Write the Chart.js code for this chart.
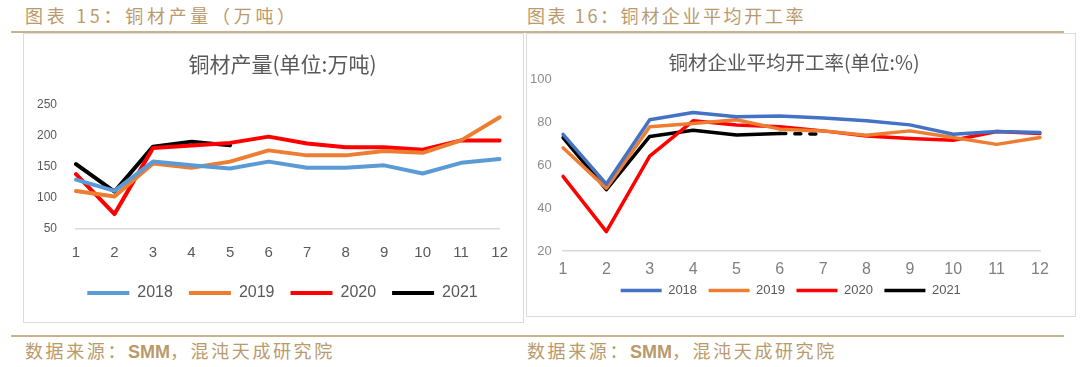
<!DOCTYPE html>
<html lang="zh">
<head>
    <meta charset="UTF-8">
    <title>铜材产量与开工率</title>
    <script src="https://cdn.jsdelivr.net/npm/chart.js@4.4.1/dist/chart.umd.min.js"></script>
    <style>
        body {
            margin: 0;
            width: 1080px;
            height: 367px;
            background: #fff;
            position: relative;
            overflow: hidden;
            font-family: "Noto Sans CJK SC", sans-serif;
        }
        .hdr, .src {
            position: absolute;
            color: #b99a6c;
            font-size: 18px;
            letter-spacing: 2.6px;
            line-height: 20px;
            white-space: nowrap;
        }
        .hdr { top: 5px; }
        .src { top: 340px; }
        .src b { font-family: "Liberation Sans Narrow", "Liberation Sans", sans-serif; letter-spacing: 0; }
        .rule {
            position: absolute;
            left: 11px;
            width: 1053px;
            height: 2px;
            background: #c9b38a;
        }
        .box {
            position: absolute;
            border: 1px solid #dcdcdc;
            box-sizing: border-box;
        }
        canvas { position: absolute; }
    </style>
</head>
<body>
    <div class="hdr" style="left:25px;letter-spacing:3.7px">图表 15：铜材产量（万吨）</div>
    <div class="hdr" style="left:527px">图表 16：铜材企业平均开工率</div>
    <div class="rule" style="top:31px"></div>

    <div class="box" style="left:23px;top:33px;width:501px;height:290px"></div>
    <div class="box" style="left:526px;top:33px;width:550px;height:284px"></div>

    <canvas id="chanliang" style="left:23px;top:33px" width="500" height="289"></canvas>
    <canvas id="kaigong" style="left:526px;top:33px" width="549" height="283"></canvas>

    <div class="rule" style="top:335px"></div>
    <div class="src" style="left:25px">数据来源：<b>SMM</b>，混沌天成研究院</div>
    <div class="src" style="left:527px">数据来源：<b>SMM</b>，混沌天成研究院</div>

    <script>
        // måneder
        const maaneder = ['1', '2', '3', '4', '5', '6', '7', '8', '9', '10', '11', '12'];

        // 铜材产量 (万吨)
        const prod2018 = [129, 111, 158, 152, 147, 158, 148, 148, 152, 139, 156, 162];
        const prod2019 = [111, 102, 155, 148, 158, 176, 168, 168, 175, 172, 192, 229];
        const prod2020 = [138, 74, 180, 184, 188, 198, 187, 181, 181, 177, 192, 192];
        const prod2021 = [154, 110, 182, 190, 184];

        // 开工率 (%)
        const rate2018 = [74.4, 51.2, 81.2, 84.6, 82.6, 82.9, 82.0, 80.7, 78.8, 74.4, 75.7, 75.2];
        const rate2019 = [68.1, 49.3, 77.9, 79.4, 81.2, 76.8, 76.0, 74.0, 76.0, 72.9, 69.7, 72.9];
        const rate2020 = [54.8, 29.0, 64.2, 80.7, 78.7, 77.9, 76.0, 73.6, 72.4, 71.6, 75.7, 74.8];
        const rate2021 = [72.9, 48.6, 73.4, 76.3, 74.1, 74.8, 74.5];

        const aarstall = ['2018', '2019', '2020', '2021'];

        function linje(label, data, farge, bredde) {
            return {
                label: label,
                data: data,
                borderColor: farge,
                backgroundColor: farge,
                borderWidth: bredde,
                borderCapStyle: 'round',
                borderJoinStyle: 'round',
                pointRadius: 0,
                tension: 0,
                fill: false
            };
        }

        // Venstre graf: produksjon
        // y-etikettene speiles (mirror) for å unngå klipping når venstre padding brukes
        new Chart(document.getElementById('chanliang'), {
            type: 'line',
            data: {
                labels: maaneder,
                datasets: [
                    linje(aarstall[0], prod2018, '#5b9bd5', 4),
                    linje(aarstall[1], prod2019, '#ed7d31', 4),
                    linje(aarstall[2], prod2020, '#ff0000', 4),
                    linje(aarstall[3], prod2021, '#000000', 4)
                ]
            },
            options: {
                responsive: false,
                animation: false,
                layout: { padding: { left: 24, right: 5, top: 0, bottom: 11 } },
                plugins: {
                    title: {
                        display: true,
                        text: '铜材产量(单位:万吨)',
                        color: '#595959',
                        font: { family: 'Noto Sans CJK SC', size: 21, weight: 'normal' },
                        padding: { top: 18, bottom: 28 }
                    },
                    legend: {
                        position: 'bottom',
                        labels: {
                            usePointStyle: true,
                            pointStyle: 'line',
                            pointStyleWidth: 42,
                            padding: 16,
                            color: '#595959',
                            font: { family: 'Liberation Sans', size: 16 }
                        }
                    },
                    tooltip: { enabled: false }
                },
                scales: {
                    x: {
                        grid: { display: false, drawTicks: false },
                        border: { color: '#d9d9d9', width: 1.5 },
                        ticks: {
                            color: '#595959',
                            padding: 15,
                            maxRotation: 0,
                            font: { family: 'Liberation Sans', size: 15 }
                        },
                        afterFit: function (s) { s.height = 40; }
                    },
                    y: {
                        min: 50,
                        max: 250,
                        grid: { display: false, drawTicks: false },
                        border: { display: false },
                        ticks: {
                            stepSize: 50,
                            mirror: true,
                            crossAlign: 'far',
                            color: '#595959',
                            padding: -39,
                            font: { family: 'Liberation Sans', size: 12 }
                        },
                        afterFit: function (s) { s.width = 29; }
                    }
                }
            }
        });

        // Høyre graf: kapasitetsutnyttelse
        new Chart(document.getElementById('kaigong'), {
            type: 'line',
            data: {
                labels: maaneder,
                datasets: [
                    linje(aarstall[0], rate2018, '#4472c4', 3.5),
                    linje(aarstall[1], rate2019, '#ed7d31', 3.5),
                    linje(aarstall[2], rate2020, '#ff0000', 3.5),
                    Object.assign(linje(aarstall[3], rate2021, '#000000', 3.5), {
                        segment: {
                            borderDash: function (ctx) { return ctx.p0DataIndex === 5 ? [6, 9] : undefined; }
                        }
                    })
                ]
            },
            options: {
                responsive: false,
                animation: false,
                layout: { padding: { left: 22, right: 35, top: 0, bottom: 9 } },
                plugins: {
                    title: {
                        display: true,
                        text: '铜材企业平均开工率(单位:%)',
                        color: '#595959',
                        font: { family: 'Noto Sans CJK SC', size: 19.5, weight: 'normal' },
                        padding: { top: 18, bottom: 5 }
                    },
                    legend: {
                        position: 'bottom',
                        labels: {
                            usePointStyle: true,
                            pointStyle: 'line',
                            pointStyleWidth: 41,
                            padding: 5,
                            color: '#595959',
                            font: { family: 'Liberation Sans', size: 13 },
                            // litt ekstra luft mellom elementene uten å øke høyden
                            generateLabels: function (chart) {
                                const items = Chart.defaults.plugins.legend.labels.generateLabels(chart);
                                items.forEach(function (it) { it.text = it.text + '\u2002'; });
                                return items;
                            }
                        }
                    },
                    tooltip: { enabled: false }
                },
                scales: {
                    x: {
                        grid: { display: false, drawTicks: false },
                        border: { color: '#d9d9d9', width: 1.5 },
                        ticks: {
                            color: '#7f7f7f',
                            padding: 11,
                            maxRotation: 0,
                            font: { family: 'Liberation Sans', size: 16, lineHeight: 1 }
                        },
                        afterFit: function (s) { s.height = 28; }
                    },
                    y: {
                        min: 20,
                        max: 100,
                        grid: { display: false, drawTicks: false },
                        border: { display: false },
                        ticks: {
                            stepSize: 20,
                            mirror: true,
                            crossAlign: 'far',
                            color: '#8c8c8c',
                            padding: -33,
                            font: { family: 'Liberation Sans', size: 13 }
                        },
                        afterFit: function (s) { s.width = 15; }
                    }
                }
            }
        });
    </script>
</body>
</html>
